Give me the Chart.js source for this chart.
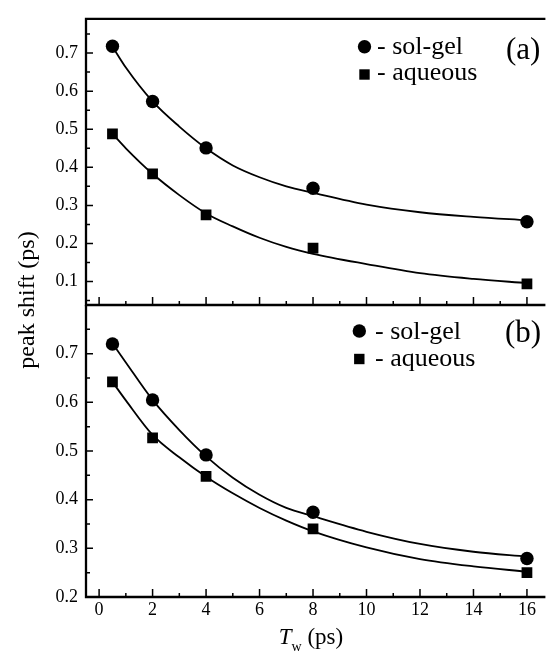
<!DOCTYPE html>
<html>
<head>
<meta charset="utf-8">
<script src="https://cdn.jsdelivr.net/npm/chart.js@4.4.0/dist/chart.umd.min.js"></script>
<style>
  html, body { margin: 0; padding: 0; background: #fff; }
  #wrap { position: relative; width: 553px; height: 654px; }
  #wrap canvas { position: absolute; left: 0; top: 0; }
  #warm { position: absolute; left: -999px; top: 0; font-family: "Liberation Serif"; }
</style>
</head>
<body>
<div id="wrap">
  <canvas id="chartA" width="553" height="654"></canvas>
  <canvas id="chartB" width="553" height="654"></canvas>
</div>
<div id="warm">0.7 <i>T</i></div>
<script>
// measured points
var tw = [0.5, 2, 4, 8, 16];
var solgelA  = [0.718, 0.573, 0.451, 0.345, 0.257];
var aqueousA = [0.488, 0.383, 0.275, 0.188, 0.094];
var solgelB  = [0.720, 0.605, 0.492, 0.374, 0.279];
var aqueousB = [0.642, 0.527, 0.448, 0.340, 0.250];

// fitted curves
var twFit = [0.5, 1, 2, 3, 4, 5, 6, 7, 8, 10, 12, 14, 16];
var solgelFitA  = [0.717, 0.662, 0.573, 0.507, 0.450, 0.405, 0.374, 0.350, 0.333, 0.302, 0.282, 0.270, 0.261];
var aqueousFitA = [0.488, 0.450, 0.383, 0.327, 0.279, 0.245, 0.215, 0.191, 0.173, 0.146, 0.122, 0.107, 0.096];
var solgelFitB  = [0.721, 0.682, 0.605, 0.543, 0.489, 0.445, 0.410, 0.383, 0.366, 0.334, 0.309, 0.293, 0.283];
var aqueousFitB = [0.642, 0.604, 0.533, 0.487, 0.447, 0.413, 0.383, 0.357, 0.335, 0.302, 0.278, 0.263, 0.252];

// ticks
var xTicks  = [0, 2, 4, 6, 8, 10, 12, 14, 16];
var xMinor  = [1, 3, 5, 7, 9, 11, 13, 15];
var yTicksA = [0.1, 0.2, 0.3, 0.4, 0.5, 0.6, 0.7];
var yMinorA = [0.05, 0.15, 0.25, 0.35, 0.45, 0.55, 0.65, 0.75];
var yTicksB = [0.2, 0.3, 0.4, 0.5, 0.6, 0.7];
var yMinorB = [0.25, 0.35, 0.45, 0.55, 0.65, 0.75];

var seriesNames = ['- sol-gel', '- aqueous'];
var panelNames = ['(a)', '(b)'];
var xTitle = ['T', 'w', ' (ps)'];
var yTitle = 'peak shift (ps)';

var FAM = '"Liberation Serif", "Times New Roman", serif';
Chart.defaults.font.family = FAM;
Chart.defaults.font.size = 18;
Chart.defaults.color = '#000';

function pts(xs, ys) {
  return xs.map(function(x, i){ return {x: x, y: ys[i]}; });
}

function makeSets(sg, aq, sgFit, aqFit) {
  return [
    { data: pts(tw, sg), pointStyle: 'circle', pointRadius: 6.7, backgroundColor: '#000', borderWidth: 0, showLine: false },
    { data: pts(tw, aq), pointStyle: 'rect', pointRadius: 7.6, backgroundColor: '#000', borderWidth: 0, showLine: false },
    { data: pts(twFit, sgFit), showLine: true, pointRadius: 0, borderColor: '#000', borderWidth: 1.8, cubicInterpolationMode: 'monotone' },
    { data: pts(twFit, aqFit), showLine: true, pointRadius: 0, borderColor: '#000', borderWidth: 1.8, cubicInterpolationMode: 'monotone' }
  ];
}

// frame and inward tick marks
var framePlugin = {
  id: 'frame',
  afterDraw: function(chart, args, o) {
    var ctx = chart.ctx, a = chart.chartArea;
    var xs = chart.scales.x, ys = chart.scales.y;
    ctx.save();
    ctx.strokeStyle = '#000';
    ctx.lineWidth = 2.3;
    ctx.beginPath();
    if (o.top) {
      ctx.moveTo(a.right, a.top);
      ctx.lineTo(a.left, a.top);
    } else {
      ctx.moveTo(a.left, a.top);
    }
    ctx.lineTo(a.left, a.bottom);
    ctx.lineTo(a.right, a.bottom);
    ctx.stroke();

    ctx.lineWidth = 1.5;
    ctx.beginPath();
    o.yMajor.forEach(function(v){
      var p = ys.getPixelForValue(v);
      ctx.moveTo(a.left, p); ctx.lineTo(a.left + 7, p);
    });
    o.yMinor.forEach(function(v){
      var p = ys.getPixelForValue(v);
      ctx.moveTo(a.left, p); ctx.lineTo(a.left + 4, p);
    });
    xTicks.forEach(function(v){
      var p = xs.getPixelForValue(v);
      ctx.moveTo(p, a.bottom); ctx.lineTo(p, a.bottom - 8);
    });
    xMinor.forEach(function(v){
      var p = xs.getPixelForValue(v);
      ctx.moveTo(p, a.bottom); ctx.lineTo(p, a.bottom - 4);
    });
    ctx.stroke();
    ctx.restore();
  }
};

// legend and panel letter inside each panel
var notesPlugin = {
  id: 'notes',
  afterDraw: function(chart, args, o) {
    var ctx = chart.ctx, a = chart.chartArea;
    ctx.save();
    ctx.fillStyle = '#000';
    ctx.beginPath();
    ctx.arc(o.markX, a.top + o.row1, 6.7, 0, 2 * Math.PI);
    ctx.fill();
    ctx.fillRect(o.markX - 5.2, a.top + o.row2 - 5.2, 10.4, 10.4);
    ctx.font = '26px ' + FAM;
    ctx.textBaseline = 'alphabetic';
    ctx.fillText(seriesNames[0], o.textX, a.top + o.base1);
    ctx.fillText(seriesNames[1], o.textX, a.top + o.base2);
    ctx.font = '31px ' + FAM;
    ctx.fillText(o.label, o.labelX, a.top + o.labelBase);
    ctx.restore();
  }
};

// axis titles
var titlePlugin = {
  id: 'titles',
  afterDraw: function(chart) {
    var ctx = chart.ctx;
    ctx.save();
    ctx.fillStyle = '#000';
    ctx.textBaseline = 'alphabetic';
    var fBig = '23px ' + FAM;
    var fIt = 'italic 23px ' + FAM;
    var fSub = '14px ' + FAM;
    ctx.font = fIt;  var w1 = ctx.measureText(xTitle[0]).width;
    ctx.font = fSub; var w2 = ctx.measureText(xTitle[1]).width;
    ctx.font = fBig; var w3 = ctx.measureText(xTitle[2]).width;
    var x0 = 311 - (w1 + w2 + w3) / 2, base = 644;
    ctx.font = fIt;  ctx.fillText(xTitle[0], x0, base);
    ctx.font = fSub; ctx.fillText(xTitle[1], x0 + w1, base + 7);
    ctx.font = fBig; ctx.fillText(xTitle[2], x0 + w1 + w2, base);

    ctx.translate(28, 300);
    ctx.rotate(-Math.PI / 2);
    ctx.textAlign = 'center';
    ctx.textBaseline = 'middle';
    ctx.font = '24px ' + FAM;
    ctx.fillText(yTitle, 0, 0);
    ctx.restore();
  }
};

function yScale(min, max, ticks) {
  return {
    type: 'linear', min: min, max: max,
    grid: { display: false, drawTicks: false },
    border: { display: false },
    ticks: { padding: 8, callback: function(v){ return v.toFixed(1); } },
    afterBuildTicks: function(s){ s.ticks = ticks.map(function(v){ return {value: v}; }); },
    afterFit: function(s){ s.width = 86; }
  };
}

function xScale(showLabels, h) {
  return {
    type: 'linear', min: -0.49, max: 16.69,
    grid: { display: false, drawTicks: false },
    border: { display: false },
    ticks: { display: showLabels, padding: 2, maxRotation: 0 },
    afterBuildTicks: function(s){ s.ticks = xTicks.map(function(v){ return {value: v}; }); },
    afterFit: function(s){ s.height = h; }
  };
}

function build() {
  new Chart(document.getElementById('chartA'), {
    type: 'scatter',
    data: { datasets: makeSets(solgelA, aqueousA, solgelFitA, aqueousFitA) },
    options: {
      responsive: false,
      animation: false,
      layout: { padding: { left: 0, right: 0, top: 12, bottom: 349 } },
      plugins: {
        legend: { display: false },
        tooltip: { enabled: false },
        frame: { top: true, yMajor: yTicksA, yMinor: yMinorA },
        notes: { label: panelNames[0], markX: 364.5, textX: 377, row1: 28, row2: 55.7, base1: 35, base2: 61.5, labelX: 506, labelBase: 39.7 }
      },
      scales: { x: xScale(false, 0), y: yScale(0.0385, 0.79, yTicksA) }
    },
    plugins: [framePlugin, notesPlugin]
  });

  new Chart(document.getElementById('chartB'), {
    type: 'scatter',
    data: { datasets: makeSets(solgelB, aqueousB, solgelFitB, aqueousFitB) },
    options: {
      responsive: false,
      animation: false,
      layout: { padding: { left: 0, right: 0, top: 305, bottom: 0 } },
      plugins: {
        legend: { display: false },
        tooltip: { enabled: false },
        frame: { top: false, yMajor: yTicksB, yMinor: yMinorB },
        notes: { label: panelNames[1], markX: 359.3, textX: 375, row1: 26, row2: 54, base1: 34.3, base2: 61, labelX: 505, labelBase: 36.7 }
      },
      scales: { x: xScale(true, 57), y: yScale(0.2, 0.8, yTicksB) }
    },
    plugins: [framePlugin, notesPlugin, titlePlugin]
  });
}

Promise.all([
  document.fonts.load('18px "Liberation Serif"'),
  document.fonts.load('italic 18px "Liberation Serif"')
]).then(build, build);
</script>
</body>
</html>
